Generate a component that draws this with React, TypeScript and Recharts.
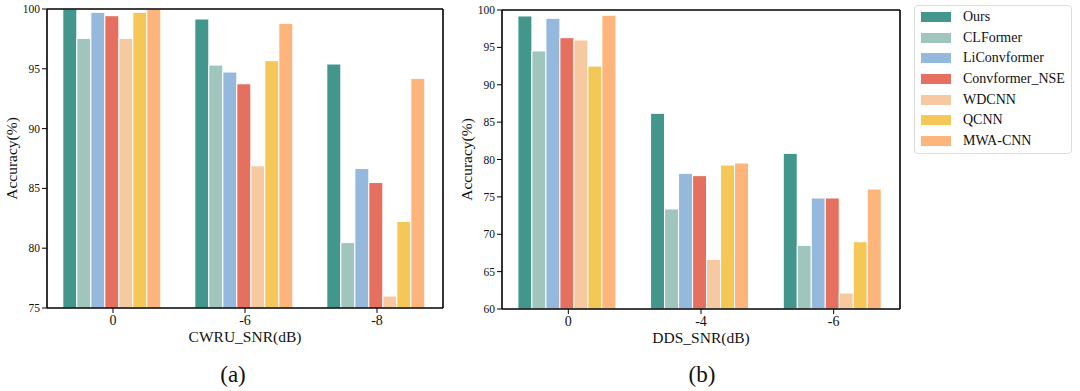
import { Bar, BarChart, XAxis, YAxis } from "recharts";

const seriesNames = ["Ours", "CLFormer", "LiConvformer", "Convformer_NSE", "WDCNN", "QCNN", "MWA-CNN"];
const seriesColors = ["#42968b", "#9fc5bc", "#95b9dd", "#e5705f", "#f7c9a0", "#f4c757", "#fdb57c"];

const cwruCategories = ["0", "-6", "-8"];
const cwruValues = [
  [100.0, 99.16, 95.4],
  [97.54, 95.31, 80.47],
  [99.72, 94.73, 86.66],
  [99.44, 93.75, 85.49],
  [97.54, 86.89, 76.0],
  [99.72, 95.68, 82.23],
  [100.0, 98.8, 94.2],
];
const cwruTicks = [75, 80, 85, 90, 95, 100];

const ddsCategories = ["0", "-4", "-6"];
const ddsValues = [
  [99.2, 86.18, 80.82],
  [94.52, 73.38, 68.52],
  [98.89, 78.15, 74.85],
  [96.3, 77.84, 74.85],
  [95.99, 66.64, 62.14],
  [92.5, 79.26, 69.0],
  [99.29, 79.53, 76.05],
];
const ddsTicks = [60, 65, 70, 75, 80, 85, 90, 95, 100];

const FONT = "'Liberation Serif', serif";

function buildRows(categories: string[], values: number[][]) {
  return categories.map((c, i) => {
    const row: Record<string, string | number> = { snr: c };
    seriesNames.forEach((s, k) => {
      row[s] = values[k][i];
    });
    return row;
  });
}

function Panel({
  categories,
  values,
  ticks,
  xTitle,
  width,
}: {
  categories: string[];
  values: number[][];
  ticks: number[];
  xTitle: string;
  width: number;
}) {
  const data = buildRows(categories, values);
  const axisStroke = { stroke: "#000", strokeWidth: 1.6 };
  const domain: [number, number] = [ticks[0], ticks[ticks.length - 1]];
  return (
    <BarChart
      width={width}
      height={360}
      data={data}
      margin={{ top: 9, right: 6, left: 0, bottom: 1 }}
      barCategoryGap="12%"
      barGap={0}
    >
      <XAxis
        dataKey="snr"
        height={50}
        tickSize={5}
        axisLine={axisStroke}
        tickLine={{ stroke: "#000" }}
        tick={{ fill: "#111", fontSize: 14 }}
        label={{ value: xTitle, position: "insideBottom", offset: 16, fill: "#111", fontSize: 15.5 }}
      />
      <XAxis xAxisId="top" orientation="top" dataKey="snr" height={1} tick={false} tickLine={false} axisLine={axisStroke} />
      <YAxis
        domain={domain}
        ticks={ticks}
        allowDataOverflow
        width={47}
        tickSize={5}
        axisLine={axisStroke}
        tickLine={{ stroke: "#000" }}
        tick={{ fill: "#111", fontSize: 11.5 }}
        label={{
          value: "Accuracy(%)",
          angle: -90,
          position: "insideLeft",
          offset: 11,
          fill: "#111",
          fontSize: 15.5,
          style: { textAnchor: "middle" },
        }}
      />
      <YAxis yAxisId="right" orientation="right" domain={domain} width={1} tick={false} tickLine={false} axisLine={axisStroke} />
      {seriesNames.map((s, k) => (
        <Bar key={s} dataKey={s} fill={seriesColors[k]} stroke="#fff" strokeWidth={1} isAnimationActive={false} />
      ))}
    </BarChart>
  );
}

function LegendBox() {
  return (
    <div
      style={{
        position: "absolute",
        left: 914,
        top: 5,
        width: 158,
        height: 149,
        border: "1px solid #dcdcdc",
        borderRadius: 4,
        boxSizing: "border-box",
        paddingTop: 1,
        fontSize: 14,
        color: "#111",
      }}
    >
      {seriesNames.map((s, k) => (
        <div key={s} style={{ display: "flex", alignItems: "center", height: 20.6 }}>
          <div style={{ width: 30, height: 10, marginLeft: 6, marginRight: 12, background: seriesColors[k] }} />
          <span>{s}</span>
        </div>
      ))}
    </div>
  );
}

export default function App() {
  return (
    <div style={{ position: "absolute", left: 0, top: 0, width: 1080, height: 391, background: "#fff", fontFamily: FONT }}>
      <style>{".recharts-wrapper text { font-family: 'Liberation Serif', serif !important; }"}</style>
      <div style={{ position: "absolute", left: 0, top: -1 }}>
        <Panel categories={cwruCategories} values={cwruValues} ticks={cwruTicks} xTitle="CWRU_SNR(dB)" width={450} />
      </div>
      <div style={{ position: "absolute", left: 455, top: 0 }}>
        <Panel categories={ddsCategories} values={ddsValues} ticks={ddsTicks} xTitle="DDS_SNR(dB)" width={452} />
      </div>
      <LegendBox />
      <div style={{ position: "absolute", left: 213, top: 362, width: 40, textAlign: "center", fontSize: 23, color: "#111" }}>(a)</div>
      <div style={{ position: "absolute", left: 682, top: 362, width: 40, textAlign: "center", fontSize: 23, color: "#111" }}>(b)</div>
    </div>
  );
}
